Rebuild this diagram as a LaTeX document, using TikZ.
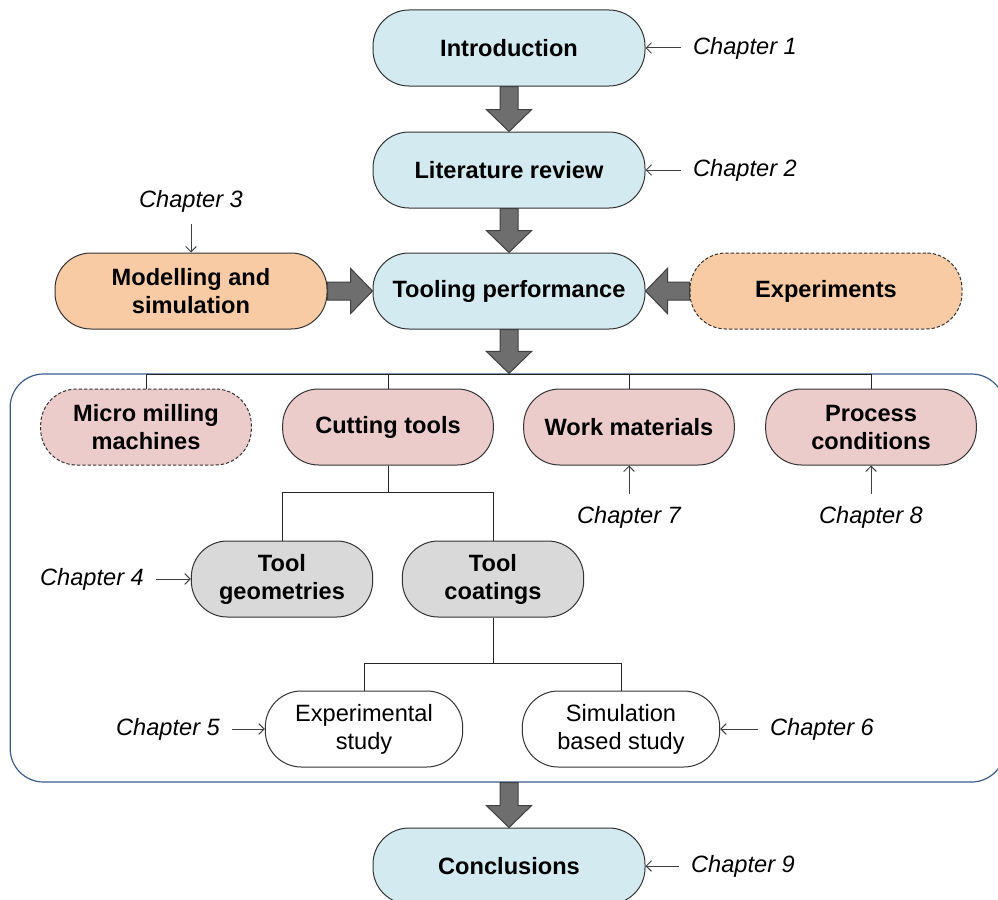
\documentclass[tikz,border=0pt]{standalone}
\usepackage{fontspec}
\setmainfont{Liberation Sans}
\usetikzlibrary{arrows.meta,calc}

\definecolor{mainblue}{HTML}{D3EAF0}
\definecolor{peach}{HTML}{F8CBA5}
\definecolor{rosy}{HTML}{ECCCCB}
\definecolor{toolgray}{HTML}{D9D9D9}
\definecolor{framenavy}{HTML}{385D8A}
\definecolor{fatgray}{HTML}{6E6E6E}

\newcommand{\sz}{\fontsize{17.7pt}{21pt}\selectfont}
% broad grey arrow between two anchors
\newcommand{\fatarrow}[2]{%
  \draw[fat] let \p1=(#1), \p2=(#2), \n1={atan2(\y2-\y1,\x2-\x1)}, \n2={veclen(\x2-\x1,\y2-\y1)} in
    [shift={(\p1)}, rotate=\n1] (0pt,-6.75pt) -- (\n2-16.5pt,-6.75pt) -- (\n2-16.5pt,-17pt)
    -- ({\n2+0pt},0pt) -- (\n2-16.5pt,17pt) -- (\n2-16.5pt,6.75pt) -- (0pt,6.75pt) -- cycle;}

\begin{document}
\begin{tikzpicture}[x=0.75pt, y=-0.75pt, >={Straight Barb[length=4pt,width=8pt]}]
    \tikzset{mainbox/.style={draw=black!80, line width=0.75pt, rounded corners=27pt, minimum width=204pt, minimum height=57pt, align=center, inner sep=2pt, font=\sz\bfseries},
        topicbox/.style={mainbox, minimum width=158pt, fill=rosy},
        toolbox/.style={mainbox, minimum width=136pt, fill=toolgray},
        studybox/.style={mainbox, minimum width=148pt, fill=white, font=\sz},
        dashbox/.style={dash pattern=on 2.5pt off 1.5pt},
        chapter/.style={font=\sz\itshape, inner sep=9pt},
        note/.style={->, draw=black!75, line width=0.75pt},
        link/.style={draw=black!85, line width=0.75pt},
        fat/.style={draw=black!75, fill=fatgray, line width=0.75pt},
        frame/.style={draw=framenavy, line width=0.9pt, rounded corners=25pt, minimum width=746pt, minimum height=306pt}}
    \useasboundingbox (0,0) rectangle (998,899);
    \clip (0,0) rectangle (998,899);

    \node[frame] (frame) at (507.5,578) {};

    \node[mainbox, fill=mainblue] (intro) at (509,48) {Introduction};
    \node[mainbox, fill=mainblue] (review) at (509,170) {Literature review};
    \node[mainbox, fill=mainblue] (perf) at (509,291) {Tooling performance};
    \node[mainbox, fill=peach] (model) at (191,291) {Modelling and\\simulation};
    \node[mainbox, dashbox, fill=peach] (exp) at (826,291) {Experiments};

    \node[topicbox, dashbox] (mill) at (146,427) {Micro milling\\machines};
    \node[topicbox] (cut) at (388,427) {Cutting tools};
    \node[topicbox] (work) at (629,427) {Work materials};
    \node[topicbox] (proc) at (871,427) {Process\\conditions};
    \node[toolbox] (geom) at (282,579) {Tool\\geometries};
    \node[toolbox] (coat) at (493,579) {Tool\\coatings};
    \node[studybox] (expst) at (364,729) {Experimental\\study};
    \node[studybox] (simst) at (621,729) {Simulation\\based study};
    \node[mainbox, fill=mainblue] (concl) at (509,866) {Conclusions};

    % tree lines
    \coordinate (bus) at (0,374);
    \draw[link] (mill.north) -- (mill.north |- bus) -- (proc.north |- bus) -- (proc.north);
    \draw[link] (cut.north) -- (cut.north |- bus);
    \draw[link] (work.north) -- (work.north |- bus);
    \draw[link] (cut.south) -- ++(0,27) -| (geom.north);
    \draw[link] (cut.south) -- ++(0,27) -| (coat.north);
    \draw[link] (coat.south) -- ++(0,46) -| (expst.north);
    \draw[link] (coat.south) -- ++(0,46) -| (simst.north);

    % main flow
    \fatarrow{intro.south}{review.north}
    \fatarrow{review.south}{perf.north}
    \fatarrow{model.east}{perf.west}
    \fatarrow{exp.west}{perf.east}
    \fatarrow{perf.south}{perf.south |- frame.north}
    \fatarrow{frame.south -| concl.north}{concl.north}

    % chapters
    \node[chapter] (c1) at (745,48) {Chapter 1};
    \node[chapter] (c2) at (745,170) {Chapter 2};
    \node[chapter] (c3) at (191,201) {Chapter 3};
    \node[chapter] (c4) at (92,579) {Chapter 4};
    \node[chapter] (c5) at (168,729) {Chapter 5};
    \node[chapter] (c6) at (822,729) {Chapter 6};
    \node[chapter] (c7) at (629,517) {Chapter 7};
    \node[chapter] (c8) at (871,517) {Chapter 8};
    \node[chapter] (c9) at (743,866) {Chapter 9};
    \draw[note] (c1.west) -- (intro.east);
    \draw[note] (c2.west) -- (review.east);
    \draw[note] (c3.south) -- (model.north);
    \draw[note] (c4.east) -- (geom.west);
    \draw[note] (c5.east) -- (expst.west);
    \draw[note] (c6.west) -- (simst.east);
    \draw[note] (c7.north) -- (work.south);
    \draw[note] (c8.north) -- (proc.south);
    \draw[note] (c9.west) -- (concl.east);
\end{tikzpicture}
\end{document}
